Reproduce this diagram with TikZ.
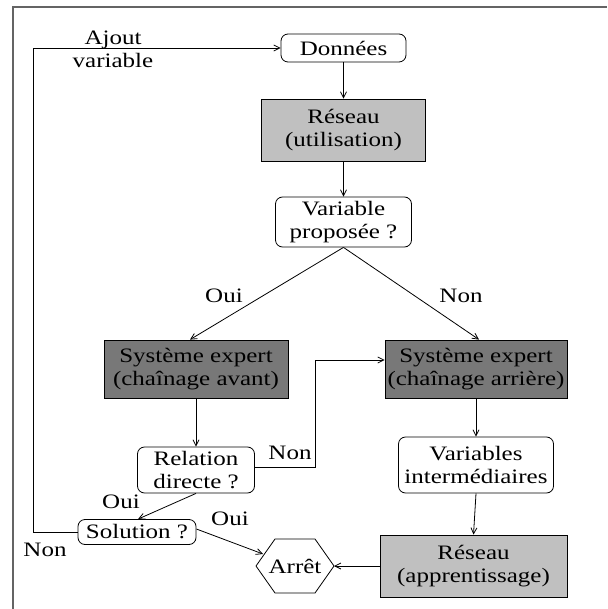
\documentclass[tikz,border=0pt]{standalone}
\usepackage{fontspec}
\setmainfont{Liberation Serif}[FakeStretch=1.22]
\usetikzlibrary{arrows.meta,calc}
\definecolor{lightfill}{RGB}{192,192,192}
\definecolor{darkfill}{RGB}{120,120,120}
\definecolor{framegray}{RGB}{100,100,100}
\begin{document}
\begin{tikzpicture}[x=1pt,y=-1pt,
  txt/.style={font=\fontsize{20.5}{23}\selectfont},
  box/.style={txt,draw,line width=0.8pt,align=center,inner sep=0pt},
  roundbox/.style={box,rounded corners=7pt,fill=white},
  lightbox/.style={box,fill=lightfill},
  darkbox/.style={box,fill=darkfill},
  lbl/.style={txt,inner sep=0pt,anchor=base},
  flow/.style={line width=0.8pt,-{Straight Barb[length=6pt,width=6pt]}}]
\useasboundingbox (0,0) rectangle (607,609);
% outer frame (top and left edges)
\draw[framegray,line width=2pt] (13,609) -- (13,7) -- (607,7);

% boxes
\node[roundbox,minimum width=125pt,minimum height=28pt] (don) at (343.5,48) {Données};
\node[lightbox,minimum width=164pt,minimum height=62pt] (resU) at (343.5,130) {Réseau\\(utilisation)};
\node[roundbox,minimum width=136pt,minimum height=50pt] (varP) at (343.5,222) {Variable\\proposée ?};
\node[darkbox,minimum width=184pt,minimum height=58pt] (seAv) at (196,369) {Système expert\\(chaînage avant)};
\node[darkbox,minimum width=182pt,minimum height=58pt] (seAr) at (476,369) {Système expert\\(chaînage arrière)};
\node[roundbox,minimum width=117pt,minimum height=46pt] (rel) at (196,470) {Relation\\directe ?};
\node[roundbox,minimum width=155pt,minimum height=56pt] (varI) at (476,465) {Variables\\intermédiaires};
\node[roundbox,minimum width=118pt,minimum height=25pt] (sol) at (137,532) {Solution ?};
\node[lightbox,minimum width=187pt,minimum height=62pt] (resA) at (473.5,566) {Réseau\\(apprentissage)};

% stop hexagon
\coordinate (hL) at (256,566);
\coordinate (hR) at (334,566);
\draw[line width=0.8pt] (hL) -- (275,539) -- (315,539) -- (hR) -- (315,593) -- (275,593) -- cycle;
\node[txt,inner sep=0pt] (arret) at (295,566) {Arrêt};
\coordinate (hIn) at (263,554);

% corner points of the elbow connectors
\coordinate (loopB) at (33,532);
\coordinate (loopT) at (33,48);
\coordinate (nonB) at (315,467);
\coordinate (nonT) at (315,360);

% connectors
\draw[flow] (don.south) -- (resU.north);
\draw[flow] (resU.south) -- (varP.north);
\draw[flow] (varP.south) -- ([xshift=-6pt]seAv.north);
\draw[flow] (varP.south) -- ([xshift=3pt]seAr.north);
\draw[flow] (seAv.south) -- (rel.north);
\draw[flow] (seAr.south) -- (varI.north);
\draw[flow] (varI.south) -- (resA.north);
\draw[flow] (rel.east |- nonB) -- (nonB) -- (nonT) -- (seAr.west |- nonT);
\draw[flow] (rel.south) -- ([xshift=1pt]sol.north);
\draw[flow] ([yshift=3pt]sol.east) -- (hIn);
\draw[flow] (sol.west) -- (loopB) -- (loopT) -- (don.west);
\draw[flow] (resA.west) -- (hR);

% labels
\node[lbl] (lAjout) at (113,45) {Ajout};
\node[lbl] (lVar) at (113,68) {variable};
\node[lbl] (lOui1) at (224,302) {Oui};
\node[lbl] (lNon1) at (461,302) {Non};
\node[lbl] (lNon2) at (290,459) {Non};
\node[lbl] (lOui2) at (121,508) {Oui};
\node[lbl] (lOui3) at (230,525) {Oui};
\node[lbl] (lNon3) at (45,556) {Non};
\end{tikzpicture}
\end{document}
